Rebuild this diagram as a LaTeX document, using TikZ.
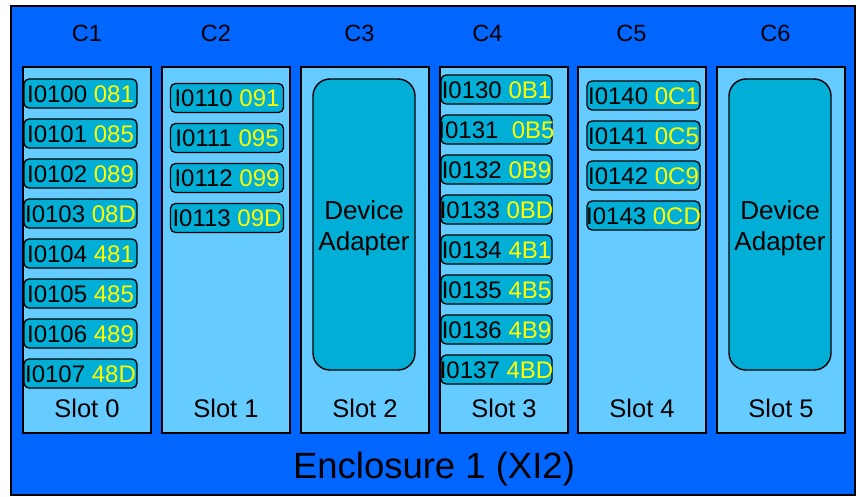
\documentclass[tikz,border=0pt]{standalone}
\usepackage{fontspec}
\setmainfont{Liberation Sans}
\definecolor{encblue}{RGB}{0,102,255}
\definecolor{slotblue}{RGB}{102,204,255}
\definecolor{itemblue}{RGB}{0,174,214}
\definecolor{numyellow}{RGB}{255,255,0}
\tikzset{
  enclosure/.style={draw=black, line width=1.5pt, fill=encblue},
  slotbox/.style={draw=black, line width=1.8pt, fill=slotblue},
  itembox/.style={draw=black, line width=1.3pt, fill=itemblue, rounded corners=5pt,
    minimum width=113pt, minimum height=29pt, inner sep=0pt,
    font=\fontsize{24}{28}\selectfont, text height=17.5pt, text depth=0pt},
  adapterbox/.style={draw=black, line width=1.4pt, fill=itemblue, rounded corners=17pt,
    minimum width=102pt, minimum height=291pt, inner sep=0pt},
  adaptertext/.style={font=\fontsize{26}{31}\selectfont, align=center},
  clabel/.style={anchor=base, font=\fontsize{23.5}{28}\selectfont},
  slotlabel/.style={anchor=base, font=\fontsize{25.5}{30}\selectfont},
  enclabel/.style={anchor=base, font=\fontsize{36.5}{42}\selectfont},
}
\newcommand{\itm}[2]{\makebox[0pt][c]{#1 \textcolor{numyellow}{#2}}}
\begin{document}
\begin{tikzpicture}[x=1pt,y=-1pt]
\useasboundingbox (0,0) rectangle (856,497);
\fill[white] (0,0) rectangle (856,497);
% enclosure
\draw[enclosure] (11,6) rectangle (855,495);
\node[enclabel] (enc) at (434,478) {Enclosure 1 (XI2)};
% slot boxes
\foreach \i/\x in {0/23,1/162,2/301,3/440,4/578,5/717}{
  \draw[slotbox] (\x,67) rectangle ++(128,366);
  \node[slotlabel] (slot\i) at (\x+64,417.5) {Slot \i};
}
% C labels
\node[clabel] (c1) at (87,42) {C1};
\node[clabel] (c2) at (216,42) {C2};
\node[clabel] (c3) at (359.5,42) {C3};
\node[clabel] (c4) at (487.5,42) {C4};
\node[clabel] (c5) at (631.5,42) {C5};
\node[clabel] (c6) at (775.5,42) {C6};
% slot 0 items
\foreach \k/\a/\b in {0/I0100/081,1/I0101/085,2/I0102/089,3/I0103/08D,4/I0104/481,5/I0105/485,6/I0106/489,7/I0107/48D}{
  \node[itembox] (s0i\k) at (80.5,93.5+40*\k) {\itm{\a}{\b}};
}
% slot 1 items
\foreach \k/\a/\b in {0/I0110/091,1/I0111/095,2/I0112/099,3/I0113/09D}{
  \node[itembox] (s1i\k) at (227,98+40*\k) {\itm{\a}{\b}};
}
% slot 3 items
\foreach \k/\a/\b in {0/I0130/0B1,2/I0132/0B9,3/I0133/0BD,4/I0134/4B1,5/I0135/4B5,6/I0136/4B9,7/I0137/4BD}{
  \node[itembox, minimum width=111pt] (s3i\k) at (496.5,89.5+40*\k) {\itm{\a}{\b}};
}
\node[itembox, minimum width=111pt] (s3i1) at (496.5,129.5) {\itm{I0131\ }{0B5}};
% slot 4 items
\foreach \k/\a/\b in {0/I0140/0C1,1/I0141/0C5,2/I0142/0C9,3/I0143/0CD}{
  \node[itembox] (s4i\k) at (643.5,95.5+40*\k) {\itm{\a}{\b}};
}
% device adapters
\node[adapterbox] (da2) at (364,224.5) {};
\node[adaptertext] (da2t) at (364,228) {Device\\Adapter};
\node[adapterbox] (da5) at (780,224.5) {};
\node[adaptertext] (da5t) at (780,228) {Device\\Adapter};
\end{tikzpicture}
\end{document}
